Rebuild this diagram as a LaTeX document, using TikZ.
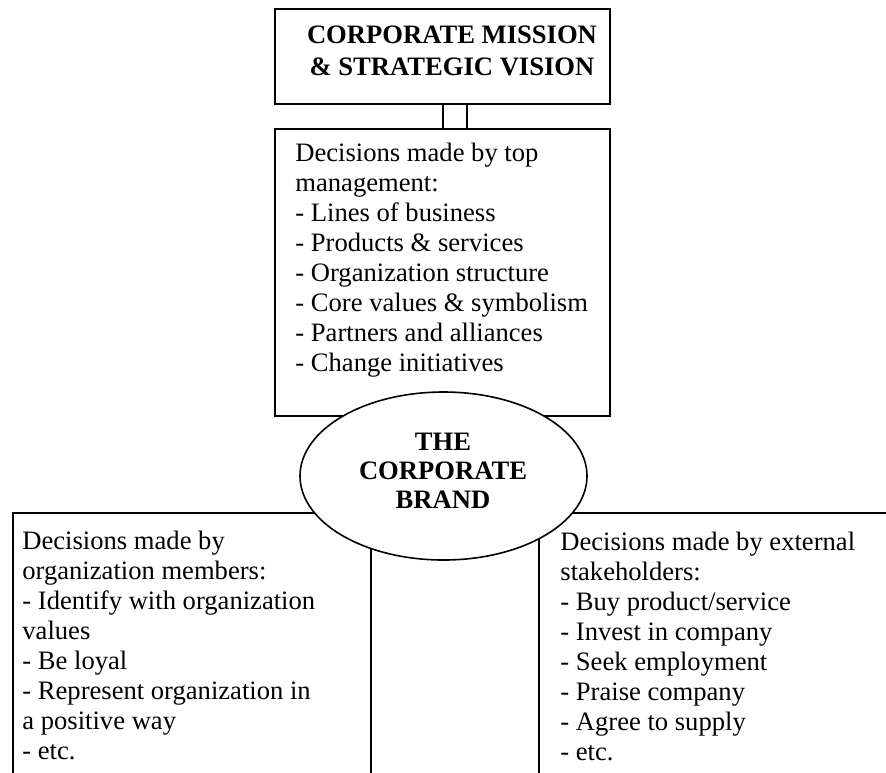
\documentclass[tikz,border=0pt]{standalone}
\usepackage{fontspec}
\setmainfont{Liberation Serif}
\usetikzlibrary{shapes.geometric}
\begin{document}
\begin{tikzpicture}[x=0.5pt,y=-0.5pt,
  frame/.style={draw, line width=0.8pt, inner sep=0pt, anchor=north west},
  body/.style={font=\fontsize{13.3}{15}\selectfont, align=left, inner sep=0pt, anchor=base west},
  head/.style={font=\fontsize{13.3}{16}\selectfont\bfseries, align=center, inner sep=0pt, anchor=base},
  link/.style={line width=0.8pt},
]
\useasboundingbox (0,0) rectangle (886,772);
\clip (0,0) rectangle (886,772);

% boxes
\node[frame, minimum width=167.5pt, minimum height=47.5pt] (mission) at (274,8) {};
\node[frame, minimum width=167.5pt, minimum height=143.5pt] (top) at (274,128) {};
\node[frame, minimum width=179pt, minimum height=144pt] (members) at (12,512) {};
\node[frame, minimum width=181pt, minimum height=144pt] (external) at (538,512) {};

% double stem between the mission box and the management box
\draw[link] (443,0 |- mission.south) -- (443,0 |- top.north);
\draw[link] (467,0 |- mission.south) -- (467,0 |- top.north);

% central ellipse, drawn over the boxes
\node[ellipse, draw, fill=white, line width=0.8pt, inner sep=0pt,
      minimum width=143.5pt, minimum height=84pt] (brand) at (443.5,476) {};

% texts (each node is placed by the baseline of its last line)
\node[head] (missiontext) at (452,75) {CORPORATE MISSION\\\& STRATEGIC VISION};
\node[head, font=\fontsize{13.3}{14.5}\selectfont\bfseries] (brandtext) at (443,508) {THE\\CORPORATE\\BRAND};
\node[body] (toptext) at (295,371) {Decisions made by top\\management:\\- Lines of business\\- Products \& services\\- Organization structure\\- Core values \& symbolism\\- Partners and alliances\\- Change initiatives};
\node[body] (memberstext) at (22,759) {Decisions made by\\organization members:\\- Identify with organization\\values\\- Be loyal\\- Represent organization in\\a positive way\\- etc.};
\node[body] (externaltext) at (560,760) {Decisions made by external\\stakeholders:\\- Buy product/service\\- Invest in company\\- Seek employment\\- Praise company\\- Agree to supply\\- etc.};
\end{tikzpicture}
\end{document}
